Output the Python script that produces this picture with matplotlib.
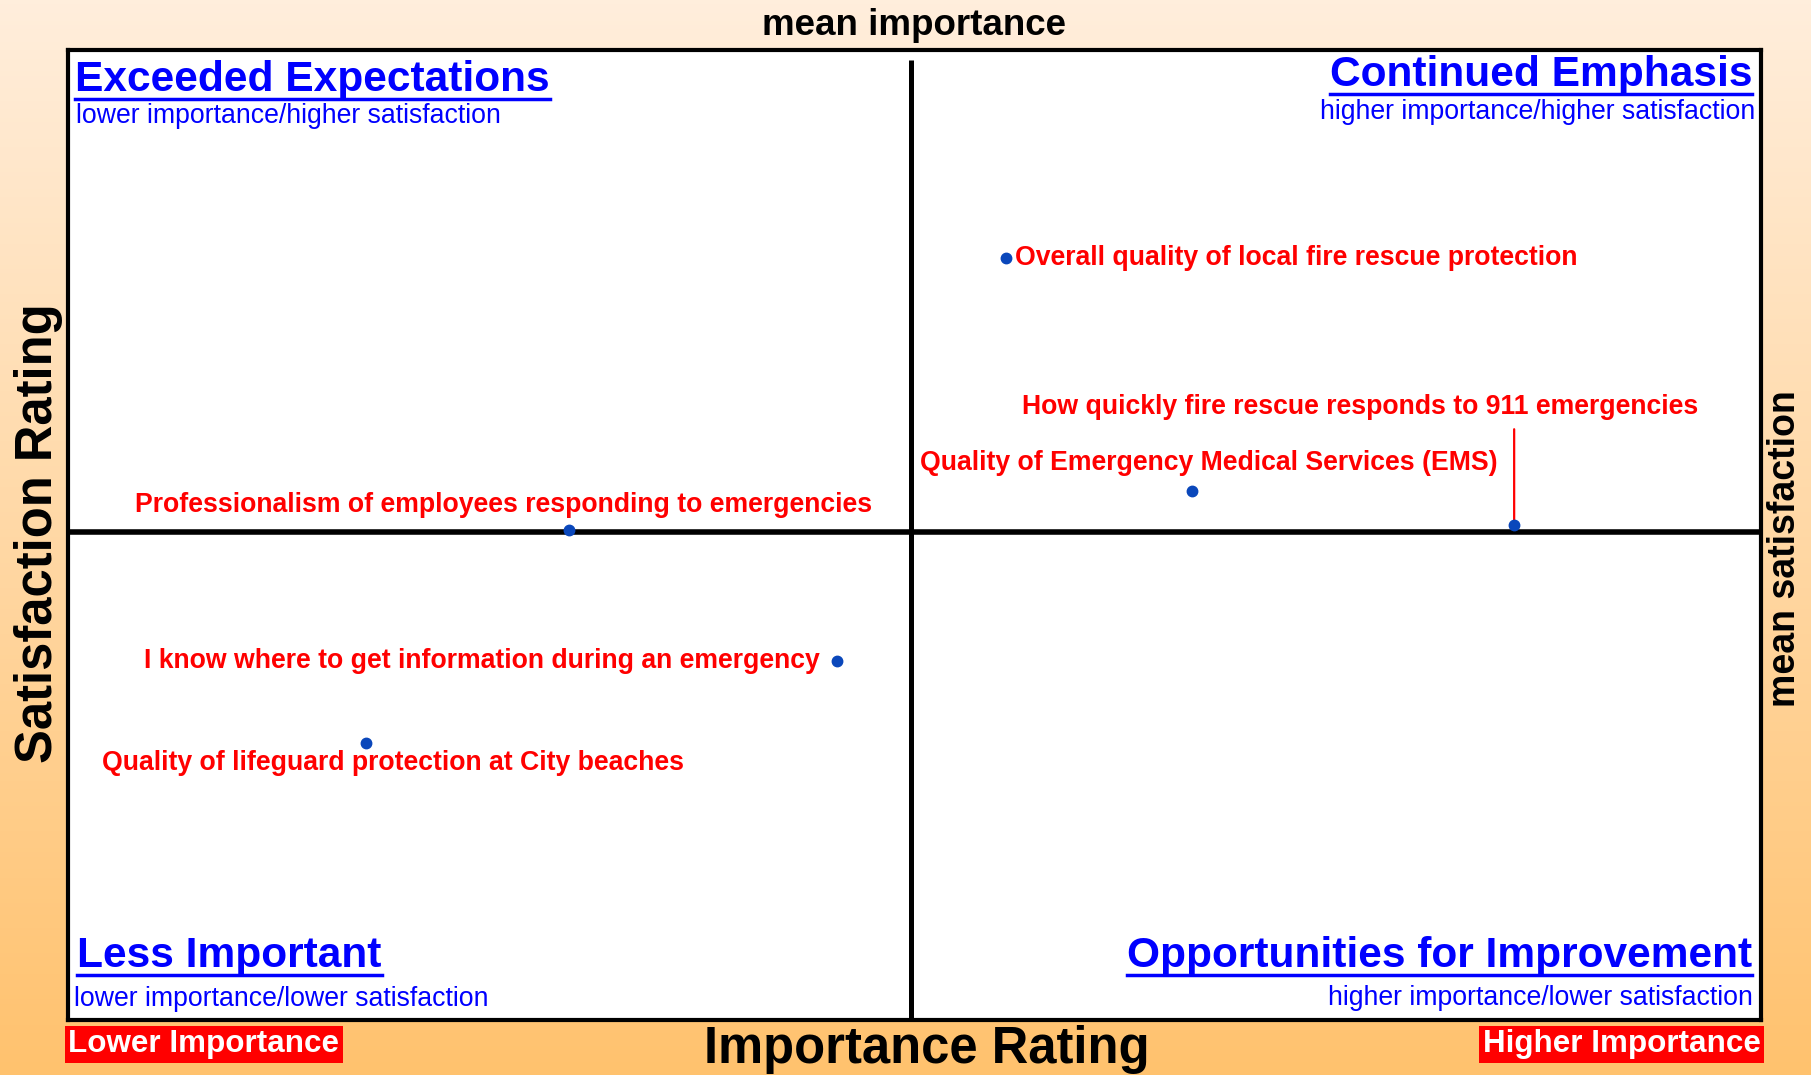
import numpy as np
import matplotlib.pyplot as plt
from matplotlib.lines import Line2D

plt.rcParams['font.family'] = ['Liberation Sans', 'DejaVu Sans']

# importance (x) vs satisfaction (y)
items = ['Overall quality of local fire rescue protection',
         'How quickly fire rescue responds to 911 emergencies',
         'Quality of Emergency Medical Services (EMS)',
         'Professionalism of employees responding to emergencies',
         'I know where to get information during an emergency',
         'Quality of lifeguard protection at City beaches']
importance = [27.7, 42.7, 33.2, 14.8, 22.7, 8.8]
satisfaction = [95.7, 90.2, 90.9, 90.1, 87.4, 85.7]
mean_importance = 24.9
mean_satisfaction = 90.05

# label placement: (dx, dy) in points, horizontal alignment
label_pos = [((6, 0), 'left'),
             ((-354, 85), 'left'),
             ((12, 20), 'center'),
             ((-47, 18), 'center'),
             ((-12, 0), 'right'),
             ((19, -14), 'center')]

fig = plt.figure(figsize=(18.11, 10.75), dpi=100)

# background gradient
bg = fig.add_axes([0, 0, 1, 1], zorder=-10)
grad = np.linspace(0, 1, 256).reshape(-1, 1)
top = np.array([255, 238, 220]) / 255
bot = np.array([255, 194, 110]) / 255
img = top + (bot - top) * grad[:, :, None]
bg.imshow(img, aspect='auto', extent=[0, 1, 0, 1])
bg.axis('off')

ax = fig.add_axes([0.0376, 0.0513, 0.9350, 0.9025])
ax.set_facecolor('white')
ax.set_xlim(0, 50)
ax.set_ylim(80, 100)
ax.set_xticks([])
ax.set_yticks([])
for s in ax.spines.values():
    s.set_linewidth(3)
    s.set_color('black')

ax.axhline(mean_satisfaction, color='black', lw=4, zorder=2)
ax.plot([mean_importance, mean_importance], [80, 99.78], color='black', lw=3.6, zorder=2,
        solid_capstyle='butt')

ax.plot(importance, satisfaction, 'o', color='#0a47bb', markersize=7.5, zorder=4,
        clip_on=False)

for i, name in enumerate(items):
    (dx, dy), ha = label_pos[i]
    ax.annotate(name, (importance[i], satisfaction[i]), xytext=(dx, dy),
                textcoords='offset points', ha=ha, va='center', color='red',
                fontsize=19.2, fontweight='bold', zorder=5)

# leader line for the 911 label
ax.annotate('', (importance[1], satisfaction[1]), xytext=(0, 69),
            textcoords='offset points',
            arrowprops=dict(arrowstyle='-', color='red', lw=1.6, shrinkA=0, shrinkB=2))

blue = '#0000ff'
titles = [
    ('Exceeded Expectations', 'lower importance/higher satisfaction', 0.0415, 0.9153, 0.0421, 0.8856, 'left'),
    ('Continued Emphasis', 'higher importance/higher satisfaction', 0.9675, 0.9196, 0.9694, 0.8893, 'right'),
    ('Less Important', 'lower importance/lower satisfaction', 0.0427, 0.1005, 0.0408, 0.0642, 'left'),
    ('Opportunities for Improvement', 'higher importance/lower satisfaction', 0.9675, 0.1005, 0.9681, 0.0650, 'right'),
]
title_texts = []
for t, sub, tx, ty, sx, sy, ha in titles:
    tt = fig.text(tx, ty, t, ha=ha, va='baseline', fontsize=30.6, fontweight='bold', color=blue)
    title_texts.append((tt, ty))
    fig.text(sx, sy, sub, ha=ha, va='baseline', fontsize=19.2, color=blue)

fig.text(0.5045, 0.976, 'mean importance', ha='center', va='center', fontsize=26.5, fontweight='bold')
fig.text(0.5115, 0.0235, 'Importance Rating', ha='center', va='center', fontsize=36.5, fontweight='bold')
fig.text(0.021, 0.504, 'Satisfaction Rating', ha='center', va='center', rotation=90,
         fontsize=36.5, fontweight='bold')
fig.text(0.9855, 0.49, 'mean satisfaction', ha='center', va='center', rotation=90,
         fontsize=27, fontweight='bold')

fig.text(0.1126, 0.0285, 'Lower Importance', ha='center', va='center', fontsize=22.6,
         fontweight='bold', color='white',
         bbox=dict(boxstyle='square,pad=0.12', fc='red', ec='none'))
fig.text(0.8954, 0.0285, 'Higher Importance', ha='center', va='center', fontsize=22.6,
         fontweight='bold', color='white',
         bbox=dict(boxstyle='square,pad=0.12', fc='red', ec='none'))

# underline the quadrant titles, a few pixels under the baseline
fig.canvas.draw()
inv = fig.transFigure.inverted()
for tt, ty in title_texts:
    bb = tt.get_window_extent()
    x0, _ = inv.transform((bb.x0, 0))
    x1, _ = inv.transform((bb.x1, 0))
    uy = ty - 8 / 1075
    fig.add_artist(Line2D([x0, x1], [uy, uy], transform=fig.transFigure, color=blue, lw=2.5))

fig.savefig('out.png', dpi=100)
